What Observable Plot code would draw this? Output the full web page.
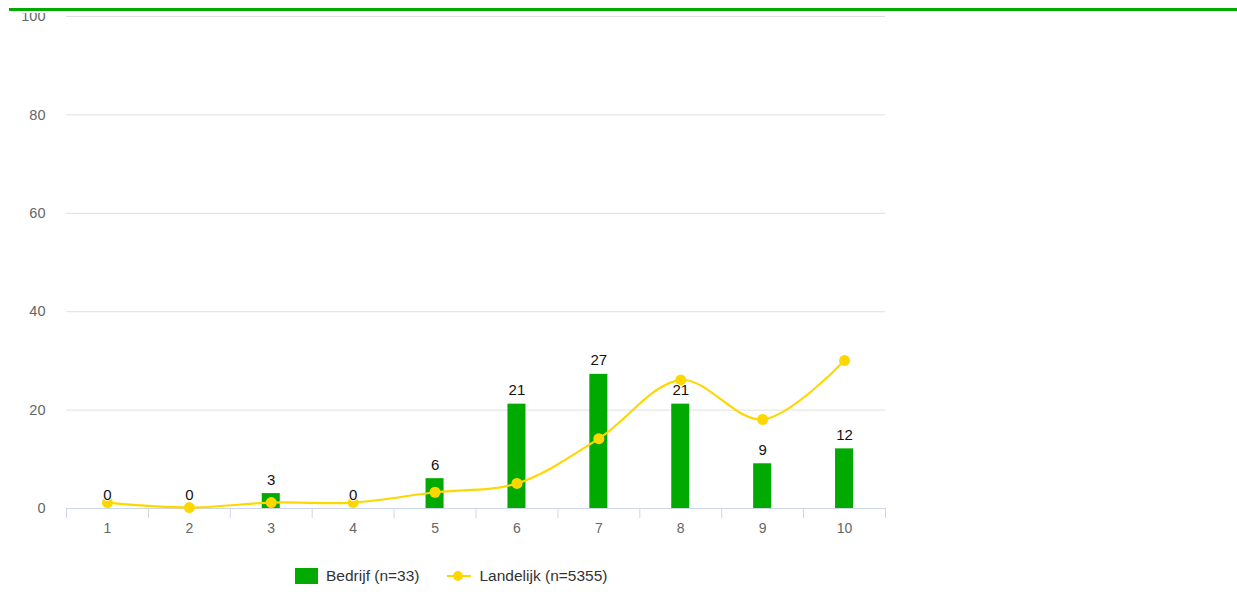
<!DOCTYPE html>
<html>
<head>
<meta charset="utf-8">
<script src="https://cdn.jsdelivr.net/npm/d3@7"></script>
<script src="https://cdn.jsdelivr.net/npm/@observablehq/plot@0.6"></script>
<style>
  html, body { margin: 0; padding: 0; background: #fff; width: 1237px; height: 595px; overflow: hidden; font-family: "Liberation Sans", Arial, sans-serif; }
  #chart { position: absolute; left: 0; top: 13px; height: 560px; overflow: hidden; }
  #topbar { position: absolute; left: 9px; top: 0; width: 1228px; height: 8px; background: #fff; border-bottom: 3px solid #00aa00; z-index: 2; }
  #legend { position: absolute; top: 567px; left: 295px; display: flex; align-items: center; font-size: 15.5px; color: #333; }
  .item { display: flex; align-items: center; margin-right: 28px; }
  .sw { width: 23px; height: 16px; background: #00aa00; margin-right: 8px; }
  .ln { position: relative; width: 24px; height: 16px; margin-right: 8px; }
  .ln::before { content: ""; position: absolute; left: 0; right: 0; top: 7px; height: 2px; background: #ffd700; }
  .ln::after { content: ""; position: absolute; left: 6px; top: 3px; width: 10px; height: 10px; border-radius: 50%; background: #ffd700; }
</style>
</head>
<body>
<div id="topbar"></div>
<div id="chart"></div>
<div id="legend"></div>
<script>
const categories = [1, 2, 3, 4, 5, 6, 7, 8, 9, 10];
const bedrijf = [0, 0, 3.03, 0, 6.06, 21.21, 27.27, 21.21, 9.09, 12.12];
const landelijk = [1.2, 0.2, 1.2, 1.2, 3.3, 5.1, 14.2, 26.1, 18.1, 30.1];
const yTicks = [0, 20, 40, 60, 80, 100];
const seriesNames = ["Bedrijf (n=33)", "Landelijk (n=5355)"];

const green = "#00aa00";
const yellow = "#ffd700";

const bars = categories.map((c, i) => ({c, v: bedrijf[i]}));
const line = categories.map((c, i) => ({c, v: landelijk[i]}));
const bounds = [0.5, ...categories.map(c => c + 0.5)];
const halfBar = 0.11;

const chart = Plot.plot({
  width: 900,
  height: 537,
  marginTop: 3,
  marginBottom: 42,
  marginLeft: 66,
  marginRight: 15,
  style: { fontFamily: "'Liberation Sans', Arial, sans-serif", fontSize: "12px", background: "transparent", overflow: "visible" },
  x: { domain: [0.5, 10.5] },
  y: { domain: [0, 100] },
  marks: [
    Plot.gridY(yTicks, { stroke: "#e0e0e0", strokeOpacity: 1 }),
    Plot.axisY(yTicks, { tickSize: 0, tickPadding: 21, color: "#666", fontSize: 14.5, label: null }),
    Plot.rectY(bars, { x1: d => d.c - halfBar, x2: d => d.c + halfBar, y1: 0, y2: "v", fill: green }),
    Plot.ruleY([0], { stroke: "#ccd6eb" }),
    Plot.axisX(bounds, { tickSize: 10, tickFormat: () => "", stroke: "#ccd6eb", label: null }),
    Plot.axisX(categories, { tickSize: 0, tickPadding: 15, color: "#666", fontSize: 14, label: null }),
    Plot.line(line, { x: "c", y: "v", stroke: yellow, strokeWidth: 2.2, curve: "catmull-rom" }),
    Plot.dot(line, { x: "c", y: "v", r: 5.5, fill: yellow, stroke: "none" }),
    Plot.text(bars, { x: "c", y: "v", text: d => String(Math.round(d.v)), dy: -9, lineAnchor: "bottom", fill: "#111", stroke: "white", strokeWidth: 2, fontSize: 15 })
  ]
});
document.getElementById("chart").appendChild(chart);

const legend = document.getElementById("legend");
legend.innerHTML = `
  <div class="item"><div class="sw"></div><span>${seriesNames[0]}</span></div>
  <div class="item"><div class="ln"></div><span>${seriesNames[1]}</span></div>`;
</script>
</body>
</html>
